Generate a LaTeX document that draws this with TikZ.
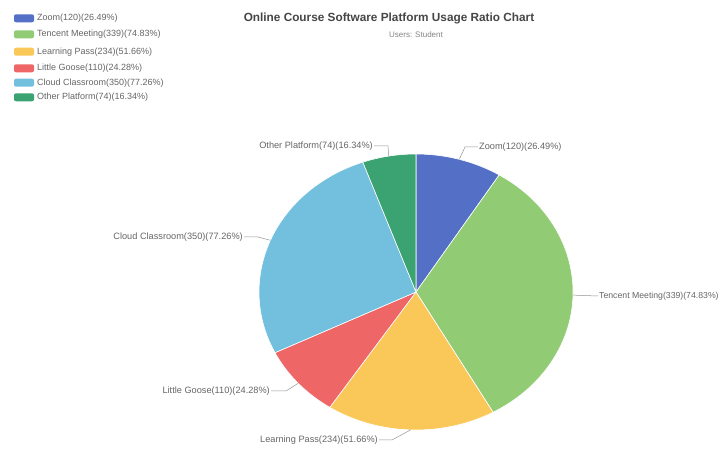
\documentclass[tikz,border=0pt]{standalone}
\usepackage{fontspec}
\setmainfont{Liberation Sans}
\definecolor{czoom}{HTML}{5470C6}
\definecolor{ctencent}{HTML}{91CC75}
\definecolor{clearn}{HTML}{FAC858}
\definecolor{cgoose}{HTML}{EE6666}
\definecolor{ccloud}{HTML}{73C0DE}
\definecolor{cother}{HTML}{3BA272}
\definecolor{txt}{HTML}{666666}
\definecolor{ttl}{HTML}{464646}
\tikzset{
  slice/.style={draw=white, line width=0.6pt},
  lbl/.style={font=\fontsize{9.2}{10}\selectfont, text=txt, inner sep=1pt},
  leader/.style={draw=txt!70, line width=0.5pt},
  legbox/.style={rounded corners=2pt, minimum width=20pt, minimum height=8pt, inner sep=0pt},
  legtxt/.style={font=\fontsize{9}{10}\selectfont, text=txt, anchor=west, inner sep=0pt},
}
\begin{document}
\begin{tikzpicture}[x=1pt,y=1pt]
\useasboundingbox[fill=white] (0,0) rectangle (726,450);
% title
\node[font=\bfseries\fontsize{11.8}{13}\selectfont, text=ttl] (title) at (389,432) {Online Course Software Platform Usage Ratio Chart};
\node[font=\fontsize{8}{9}\selectfont, text=txt!80] (sub) at (416,415.5) {Users: Student};
% legend
\node[legbox, fill=czoom]    (l1) at (24,431.7) {};
\node[legbox, fill=ctencent] (l2) at (24,415.7) {};
\node[legbox, fill=clearn]   (l3) at (24,398.3) {};
\node[legbox, fill=cgoose]   (l4) at (24,381.7) {};
\node[legbox, fill=ccloud]   (l5) at (24,367.3) {};
\node[legbox, fill=cother]   (l6) at (24,352.7) {};
\node[legtxt] (t1) at (37,431.7) {Zoom(120)(26.49\%)};
\node[legtxt] (t2) at (37,415.7) {Tencent Meeting(339)(74.83\%)};
\node[legtxt] (t3) at (37,398.3) {Learning Pass(234)(51.66\%)};
\node[legtxt] (t4) at (37,381.7) {Little Goose(110)(24.28\%)};
\node[legtxt] (t5) at (37,367.3) {Cloud Classroom(350)(77.26\%)};
\node[legtxt] (t6) at (37,352.7) {Other Platform(74)(16.34\%)};
% pie
\coordinate (C) at (416,158);
\def\rx{157}\def\ry{138}
\filldraw[slice, fill=czoom]    (C) -- ({416+\rx*cos(90)},{158+\ry*sin(90)}) arc[start angle=90, end angle=58, x radius=\rx, y radius=\ry] -- cycle;
\filldraw[slice, fill=ctencent] (C) -- ({416+\rx*cos(58)},{158+\ry*sin(58)}) arc[start angle=58, end angle=-60.6, x radius=\rx, y radius=\ry] -- cycle;
\filldraw[slice, fill=clearn]   (C) -- ({416+\rx*cos(-60.6)},{158+\ry*sin(-60.6)}) arc[start angle=-60.6, end angle=-123.3, x radius=\rx, y radius=\ry] -- cycle;
\filldraw[slice, fill=cgoose]   (C) -- ({416+\rx*cos(-123.3)},{158+\ry*sin(-123.3)}) arc[start angle=-123.3, end angle=-153.9, x radius=\rx, y radius=\ry] -- cycle;
\filldraw[slice, fill=ccloud]   (C) -- ({416+\rx*cos(-153.9)},{158+\ry*sin(-153.9)}) arc[start angle=-153.9, end angle=-250.2, x radius=\rx, y radius=\ry] -- cycle;
\filldraw[slice, fill=cother]   (C) -- ({416+\rx*cos(-250.2)},{158+\ry*sin(-250.2)}) arc[start angle=-250.2, end angle=-270, x radius=\rx, y radius=\ry] -- cycle;
% leader anchor points on the rim
\coordinate (pZoom) at ({416+\rx*cos(74)},{158+\ry*sin(74)});
\coordinate (pTen)  at ({416+\rx*cos(-1.3)},{158+\ry*sin(-1.3)});
\coordinate (pLea)  at ({416+\rx*cos(-92)},{158+\ry*sin(-92)});
\coordinate (pGoo)  at ({416+\rx*cos(-138.6)},{158+\ry*sin(-138.6)});
\coordinate (pClo)  at ({416+\rx*cos(158)},{158+\ry*sin(158)});
\coordinate (pOth)  at ({416+\rx*cos(100)},{158+\ry*sin(100)});
% labels
\node[lbl, anchor=west] (nZoom) at (478,303) {Zoom(120)(26.49\%)};
\node[lbl, anchor=west, font=\fontsize{8.7}{10}\selectfont] (nTen)  at (598,154) {Tencent Meeting(339)(74.83\%)};
\node[lbl, anchor=east] (nLea)  at (379,10)  {Learning Pass(234)(51.66\%)};
\node[lbl, anchor=east] (nGoo)  at (271,59)  {Little Goose(110)(24.28\%)};
\node[lbl, anchor=east] (nClo)  at (244,213) {Cloud Classroom(350)(77.26\%)};
\node[lbl, anchor=east] (nOth)  at (374,304) {Other Platform(74)(16.34\%)};
% leaders
\draw[leader] (pZoom) -- (465,303) -- (nZoom.west);
\draw[leader] (pTen) -- (nTen.west);
\draw[leader] (pLea) -- (392,10) -- (nLea.east);
\draw[leader] (pGoo) -- (286,59) -- (nGoo.east);
\draw[leader] (pClo) -- (258,213) -- (nClo.east);
\draw[leader] (pOth) -- (388,304) -- (nOth.east);
\end{tikzpicture}
\end{document}
